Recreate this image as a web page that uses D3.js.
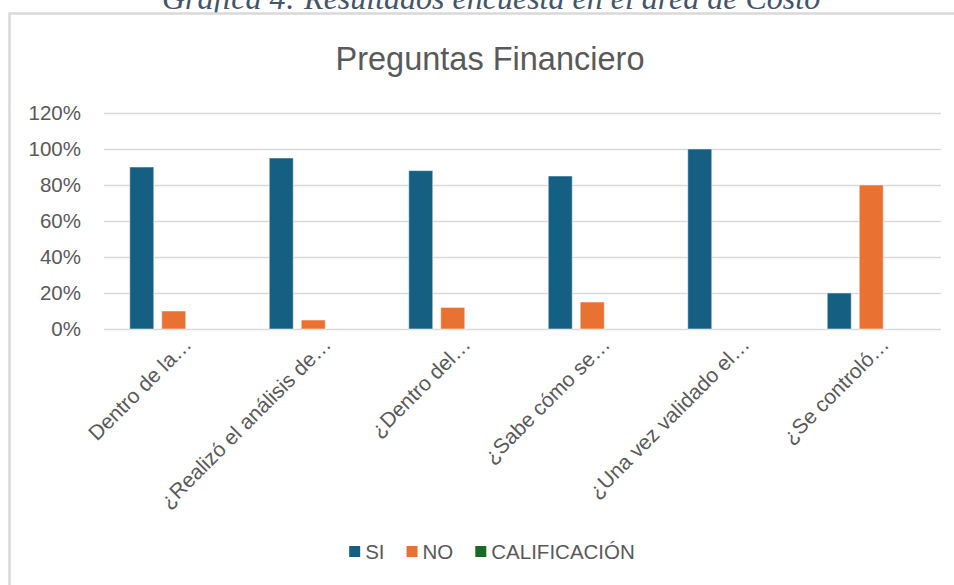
<!DOCTYPE html>
<html>
<head>
<meta charset="utf-8">
<script src="https://cdn.jsdelivr.net/npm/d3@7"></script>
<style>
  body { margin: 0; background: #fff; }
  svg { display: block; }
  text { font-family: "Liberation Sans", Arial, sans-serif; }
</style>
</head>
<body>
<div id="graph"></div>
<script>
const categories = [
  "Dentro de la\u2026",
  "\u00bfRealiz\u00f3 el an\u00e1lisis de\u2026",
  "\u00bfDentro del\u2026",
  "\u00bfSabe c\u00f3mo se\u2026",
  "\u00bfUna vez validado el\u2026",
  "\u00bfSe control\u00f3\u2026"
];
const seriesNames = ["SI", "NO", "CALIFICACI\u00d3N"];
const siValues = [0.90, 0.95, 0.88, 0.85, 1.00, 0.20];
const noValues = [0.10, 0.05, 0.12, 0.15, 0.00, 0.80];
const calValues = [0, 0, 0, 0, 0, 0];
const yTicks = [0, 0.2, 0.4, 0.6, 0.8, 1.0, 1.2];
const colors = ["#156082", "#E97132", "#196B24"];

const W = 954, H = 585;
const svg = d3.select("#graph").append("svg")
  .attr("width", W).attr("height", H);

// caption of the document, cut off by the top of the page (as in the source)
svg.append("text")
  .attr("x", 491).attr("y", 9)
  .attr("text-anchor", "middle")
  .style("font-family", "'Liberation Serif', 'DejaVu Serif', serif")
  .style("font-style", "italic")
  .style("font-size", "32px")
  .attr("fill", "#44546A")
  .text("Gr\u00e1fica 4: Resultados encuesta en el \u00e1rea de Costo");

// chart frame
svg.append("rect")
  .attr("x", 9.5).attr("y", 13.5)
  .attr("width", 1000).attr("height", 700)
  .attr("fill", "#fff")
  .attr("stroke", "#d9d9d9")
  .attr("stroke-width", 2.5);

svg.append("text")
  .attr("x", 490).attr("y", 70)
  .attr("text-anchor", "middle")
  .attr("fill", "#595959")
  .style("font-size", "32.5px")
  .text("Preguntas Financiero");

const plotLeft = 104, plotRight = 941, plotTop = 113, plotBottom = 329;

const x = d3.scaleBand().domain(categories).range([plotLeft, plotRight]);
const xs = d3.scaleBand().domain(seriesNames).range([0, 88]).paddingInner(0.25);
const y = d3.scaleLinear().domain([0, 1.2]).range([plotBottom, plotTop]);

const yAxis = svg.append("g")
  .attr("transform", "translate(" + plotLeft + ",0)")
  .call(d3.axisLeft(y).tickValues(yTicks).tickFormat(d3.format(".0%"))
    .tickSize(-(plotRight - plotLeft)).tickPadding(23));
yAxis.select(".domain").remove();
yAxis.selectAll("line").attr("stroke", "#d9d9d9").attr("stroke-width", 1.5);
yAxis.selectAll("text")
  .attr("fill", "#595959")
  .style("font-size", "20.5px")
  .style("font-family", "'Liberation Sans', Arial, sans-serif");

const data = [siValues, noValues, calValues];
const groups = svg.selectAll(".series")
  .data(data)
  .enter().append("g")
  .attr("class", "series")
  .attr("fill", function(d, i) { return colors[i]; });

groups.selectAll("rect")
  .data(function(d, i) { return d.map(function(v, j) { return {cat: categories[j], s: seriesNames[i], v: v}; }); })
  .enter().append("rect")
  .attr("x", function(d) { return x(d.cat) + x.bandwidth() / 2 - 44 + xs(d.s); })
  .attr("y", function(d) { return y(d.v); })
  .attr("width", xs.bandwidth())
  .attr("height", function(d) { return plotBottom - y(d.v); })
  .attr("stroke", function(d) { return d.v > 0 ? "rgba(255,255,255,0.5)" : "none"; })
  .attr("stroke-width", 1);

svg.append("g").selectAll("text")
  .data(categories)
  .enter().append("text")
  .attr("transform", function(d) { return "translate(" + (x(d) + x.bandwidth() / 2 + 19) + ",346) rotate(-45)"; })
  .attr("text-anchor", "end")
  .attr("fill", "#595959")
  .style("font-size", "21px")
  .text(function(d) { return d; });

// legend
const legend = svg.append("g");
let lx = 0;
seriesNames.forEach(function(name, i) {
  const g = legend.append("g");
  g.append("rect").attr("x", 0).attr("y", -6).attr("width", 11).attr("height", 11).attr("fill", colors[i]);
  const t = g.append("text").attr("x", 16).attr("y", 0).attr("dy", "0.35em")
    .attr("fill", "#595959").style("font-size", "20.5px").text(name);
  const w = 16 + t.node().getComputedTextLength();
  g.attr("transform", "translate(" + lx + ",0)");
  lx += w + 22;
});
lx -= 22;
legend.attr("transform", "translate(" + (492 - lx / 2) + ",552)");
</script>
</body>
</html>
